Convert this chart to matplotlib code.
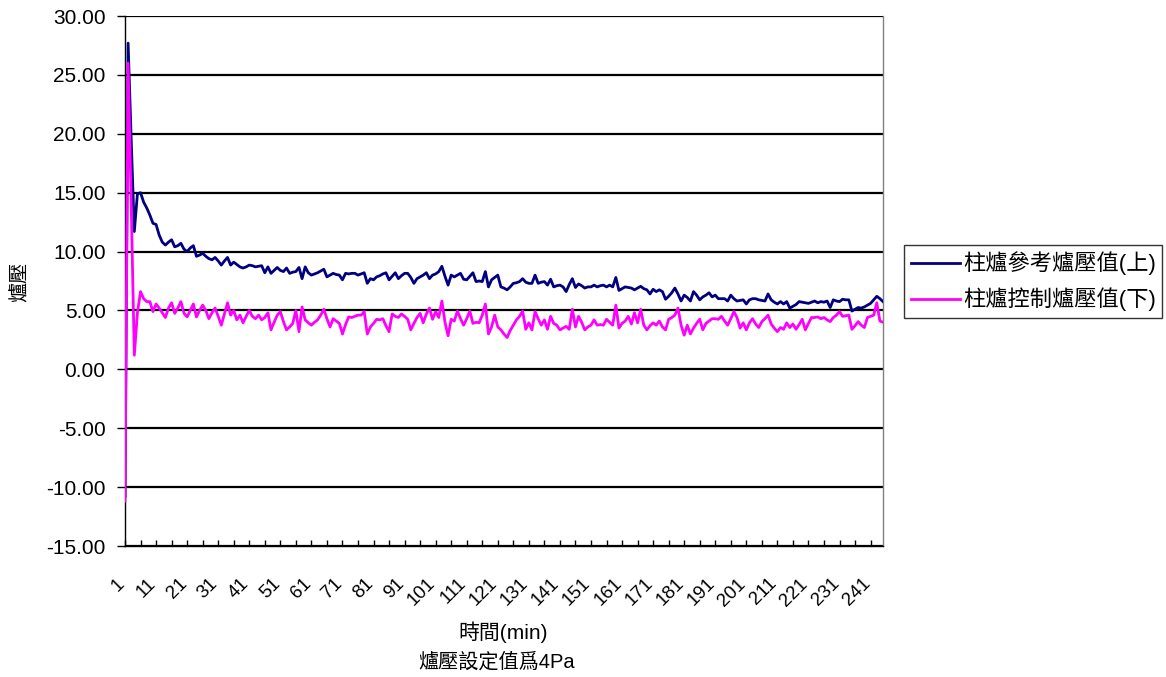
import matplotlib
matplotlib.use("Agg")
import matplotlib.pyplot as plt
from matplotlib.transforms import ScaledTranslation

ref_pressure = [
    -10.8, 27.7, 19.5, 11.7, 14.9, 15.0, 14.2, 13.7, 13.1, 12.4,
    12.3, 11.4, 10.8, 10.55, 10.8, 11.0, 10.4, 10.5, 10.7, 10.2,
    10.0, 10.3, 10.5, 9.6, 9.7, 9.85, 9.6, 9.4, 9.3, 9.5,
    9.2, 8.85, 9.2, 9.5, 8.85, 9.1, 8.9, 8.7, 8.6, 8.7,
    8.85, 8.8, 8.7, 8.75, 8.8, 8.2, 8.7, 8.15, 8.4, 8.65,
    8.4, 8.3, 8.6, 8.15, 8.25, 8.3, 8.65, 7.7, 8.7, 8.2,
    8.0, 8.1, 8.2, 8.35, 8.5, 7.85, 8.0, 8.15, 8.05, 8.0,
    7.6, 8.15, 8.1, 8.15, 8.15, 8.0, 8.1, 8.2, 7.3, 7.7,
    7.6, 7.85, 7.95, 8.1, 8.2, 7.6, 7.9, 8.2, 7.7, 7.95,
    8.15, 8.15, 7.8, 7.3, 7.7, 7.85, 8.0, 8.2, 7.7, 8.0,
    8.1, 8.3, 8.75, 7.9, 7.15, 8.0, 7.85, 8.0, 8.15, 7.65,
    7.6, 7.9, 8.2, 7.45, 7.5, 7.45, 8.3, 7.0, 7.6, 7.8,
    8.0, 7.0, 6.9, 6.75, 7.0, 7.3, 7.35, 7.45, 7.7, 7.4,
    7.3, 7.3, 8.0, 7.3, 7.4, 7.45, 7.15, 7.65, 7.0, 7.1,
    7.15, 7.0, 6.6, 7.2, 7.7, 6.95, 7.25, 7.1, 6.9, 7.0,
    7.0, 7.15, 7.0, 7.1, 7.15, 7.0, 7.15, 7.0, 7.8, 6.7,
    6.85, 7.0, 6.95, 6.9, 6.75, 6.9, 7.05, 6.85, 6.75, 6.4,
    6.8, 6.6, 6.75, 6.6, 5.95, 6.2, 6.5, 6.9, 6.4, 5.8,
    6.3, 6.1, 5.8, 6.6, 6.3, 5.9, 6.15, 6.3, 6.5, 6.15,
    6.3, 6.0, 6.0, 6.0, 5.8, 6.3, 6.0, 5.8, 5.85, 5.9,
    5.55, 5.9, 6.0, 6.0, 5.9, 5.85, 5.8, 6.4, 5.9, 5.7,
    5.55, 5.75, 5.55, 5.75, 5.2, 5.35, 5.5, 5.75, 5.7, 5.65,
    5.6, 5.7, 5.8, 5.65, 5.75, 5.7, 5.8, 5.25, 5.9, 5.8,
    5.75, 5.95, 5.9, 5.9, 4.95, 5.1, 5.25, 5.2, 5.3, 5.45,
    5.6, 5.9, 6.2, 6.0, 5.75,
]

ctrl_pressure = [
    -11.2, 26.0, 14.0, 1.2, 4.8, 6.6, 6.0, 5.75, 5.75, 4.9,
    5.55, 5.2, 4.8, 4.4, 5.2, 5.65, 4.75, 5.2, 5.75, 4.75,
    4.45, 5.0, 5.55, 4.45, 5.0, 5.45, 5.0, 4.3, 4.8, 5.2,
    4.5, 3.75, 4.7, 5.65, 4.6, 5.0, 4.2, 4.6, 3.95, 4.5,
    5.0, 4.5, 4.3, 4.6, 4.2, 4.4, 4.8, 3.35, 4.0, 4.6,
    4.9, 4.05, 3.35, 3.6, 3.9, 5.0, 3.2, 5.3, 4.2, 3.95,
    3.75, 4.0, 4.2, 4.6, 5.1, 4.3, 3.6, 4.3, 4.1, 3.9,
    3.0, 3.8, 4.45, 4.4, 4.5, 4.6, 4.6, 4.9, 3.0, 3.6,
    3.9, 4.25, 4.2, 4.3, 3.7, 3.2, 4.7, 4.5, 4.4, 4.7,
    4.5, 4.25, 3.35, 3.9, 4.4, 4.75, 3.95, 4.7, 5.2, 4.25,
    4.9, 4.4, 5.8, 4.0, 2.85, 4.25, 4.1, 4.95, 4.3, 3.75,
    4.3, 4.95, 3.9, 4.0, 3.95, 4.6, 5.55, 3.0, 3.6, 4.6,
    3.6, 3.35, 3.0, 2.7, 3.3, 3.75, 4.2, 4.5, 4.95, 3.4,
    3.95, 3.35, 4.9, 4.3, 3.75, 4.2, 3.4, 4.5, 3.9, 3.75,
    3.35, 3.5, 3.65, 3.4, 5.1, 3.6, 4.5, 4.0, 3.35, 3.6,
    3.75, 4.2, 3.75, 3.8, 3.75, 4.25, 4.0, 3.75, 5.45, 3.5,
    3.9, 4.1, 4.5, 3.85, 4.8, 3.95, 5.1, 3.75, 3.35, 3.7,
    3.95, 3.75, 4.1, 3.6, 3.35, 4.25, 4.4, 4.6, 5.2, 3.75,
    2.9, 3.75, 3.0, 3.5, 3.9, 4.25, 3.35, 3.9, 4.1, 4.3,
    4.3, 4.25, 4.5, 4.1, 3.75, 4.3, 4.9, 4.4, 3.5, 3.95,
    3.35, 3.95, 4.3, 3.85, 3.55, 4.05, 4.3, 4.6, 3.85, 3.5,
    3.2, 3.55, 3.4, 3.95, 3.55, 3.85, 3.4, 3.8, 4.25, 3.35,
    3.9, 4.4, 4.4, 4.45, 4.3, 4.4, 4.2, 4.05, 4.4, 4.6,
    4.9, 4.5, 4.55, 4.6, 3.4, 3.7, 4.05, 3.75, 3.55, 4.4,
    4.5, 4.6, 5.65, 4.1, 4.0,
]

minutes = list(range(1, len(ref_pressure) + 1))
x_tick_labels = list(range(1, 242, 10))
y_ticks = [-15, -10, -5, 0, 5, 10, 15, 20, 25, 30]

series_names = ["柱爐參考爐壓值(上)", "柱爐控制爐壓值(下)"]
x_label_1 = "時間(min)"
x_label_2 = "爐壓設定值爲4Pa"
y_label = "爐壓"

FONT = ["Liberation Sans", "Noto Sans CJK TC", "DejaVu Sans"]
plt.rcParams["font.family"] = FONT

W, H = 1166, 677
fig = plt.figure(figsize=(W / 100, H / 100), dpi=100)
ax = fig.add_axes([125 / W, 1 - 546 / H, (883 - 125) / W, (546 - 16) / H])

for yv in y_ticks:
    ax.axhline(yv, color="black", lw=1.6, zorder=1)

l1, = ax.plot(minutes, ref_pressure, color="#000080", lw=2.0, zorder=3,
              solid_joinstyle="round")
l2, = ax.plot(minutes, ctrl_pressure, color="#FF00FF", lw=2.0, zorder=4,
              solid_joinstyle="round")

ax.set_xlim(1, len(minutes))
ax.set_ylim(-15, 30)
ax.set_yticks(y_ticks)
ax.set_yticklabels([f"{v:.2f}" for v in y_ticks], fontsize=15)
ax.tick_params(axis="y", direction="out", length=6, width=1, pad=8)

ax.set_xticks(x_tick_labels)
ax.set_xticklabels([str(v) for v in x_tick_labels], rotation=45, ha="right",
                   va="top", rotation_mode="anchor", fontsize=13.5)
ax.set_xticks(list(range(6, len(minutes) + 1, 10)), minor=True)
ax.tick_params(axis="x", which="both", direction="in", length=4, width=1, pad=21)
shift = ScaledTranslation(-9 / 100, 0, fig.dpi_scale_trans)
for lbl in ax.get_xticklabels():
    lbl.set_transform(lbl.get_transform() + shift)

ax.spines["left"].set_color("black")
ax.spines["bottom"].set_color("black")
ax.spines["top"].set_visible(False)
ax.spines["right"].set_color("#808080")
for s in ax.spines.values():
    s.set_linewidth(1.0)

fig.text(503 / W, 1 - 632 / H, x_label_1, ha="center", va="center", fontsize=15)
fig.text(497 / W, 1 - 662 / H, x_label_2, ha="center", va="center", fontsize=14.5)
fig.text(20 / W, 1 - 282 / H, y_label, ha="center", va="center", rotation=90,
         fontsize=14.5)

leg = fig.legend([l1, l2], series_names, loc="upper left",
                 bbox_to_anchor=(904 / W, 1 - 245 / H), bbox_transform=fig.transFigure,
                 borderaxespad=0, frameon=True, fancybox=False, fontsize=16,
                 handlelength=2.2, handletextpad=0.15, labelspacing=0.55,
                 borderpad=0.3)
leg.get_frame().set_edgecolor("black")
leg.get_frame().set_linewidth(1.0)

fig.savefig("out.png", dpi=100)
